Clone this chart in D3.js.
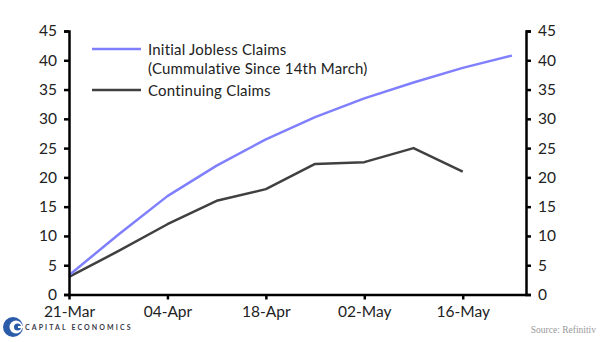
<!DOCTYPE html>
<html><head><meta charset="utf-8">
<script src="https://cdn.jsdelivr.net/npm/d3@7"></script>
<style>body{margin:0;background:#fff}svg{display:block}</style>
</head><body>
<svg id="c" width="600" height="342"></svg>
<script>
const dates = ["2020-03-21","2020-03-28","2020-04-04","2020-04-11","2020-04-18","2020-04-25","2020-05-02","2020-05-09","2020-05-16","2020-05-23"];
const initialClaims = [3.3, 10.2, 16.8, 22.0, 26.5, 30.3, 33.5, 36.2, 38.7, 40.8];
const continuingClaims = [3.0, 7.4, 12.0, 16.0, 18.0, 22.3, 22.6, 25.0, 21.0, null];
const xTickDates = ["2020-03-21","2020-04-04","2020-04-18","2020-05-02","2020-05-16"];
const yTicks = [0,5,10,15,20,25,30,35,40,45];
const seriesNames = ["Initial Jobless Claims", "(Cummulative Since 14th March)", "Continuing Claims"];

const parse = d3.utcParse("%Y-%m-%d");
const fmt = d3.utcFormat("%d-%b");
const svg = d3.select("#c");
const font = "Lato, 'Open Sans', sans-serif";

const x = d3.scaleUtc().domain([parse("2020-03-21"), parse("2020-05-25")]).range([69, 526]);
const y = d3.scaleLinear().domain([0,45]).range([294.5, 31]);

const line = d3.line().defined(d => d[1] != null).x(d => x(d[0])).y(d => y(d[1]));
const pts = arr => dates.map((d,i) => [parse(d), arr[i]]);

svg.append("path").datum(pts(continuingClaims)).attr("d", line)
  .attr("fill","none").attr("stroke","#404040").attr("stroke-width",2.5).attr("stroke-linejoin","round");
svg.append("path").datum(pts(initialClaims)).attr("d", line)
  .attr("fill","none").attr("stroke","#8080ff").attr("stroke-width",2.5).attr("stroke-linejoin","round");

function styleAxis(g){
  g.select(".domain").attr("stroke","#000").attr("stroke-width",2.5);
  g.selectAll(".tick line").attr("stroke","#000").attr("stroke-width",2.5);
  g.selectAll("text").attr("font-family",font).attr("font-size",15.5).attr("fill","#222");
}
const gl = svg.append("g").attr("transform","translate(69,0)")
  .call(d3.axisLeft(y).tickValues(yTicks).tickSize(5).tickSizeOuter(5).tickPadding(7));
styleAxis(gl);
const gr = svg.append("g").attr("transform","translate(526,0)")
  .call(d3.axisRight(y).tickValues(yTicks).tickSize(5).tickSizeOuter(5).tickPadding(7));
styleAxis(gr);
const gx = svg.append("g").attr("transform","translate(0,294.5)")
  .call(d3.axisBottom(x).tickValues(xTickDates.map(parse)).tickFormat(fmt).tickSize(5).tickSizeOuter(0).tickPadding(6));
styleAxis(gx);

// legend
const lg = svg.append("g");
lg.append("line").attr("x1",92).attr("x2",141).attr("y1",49).attr("y2",49).attr("stroke","#8080ff").attr("stroke-width",2.5);
lg.append("line").attr("x1",92).attr("x2",141).attr("y1",90).attr("y2",90).attr("stroke","#404040").attr("stroke-width",2.5);
lg.append("text").attr("x",148).attr("y",55).text(seriesNames[0]);
lg.append("text").attr("x",148).attr("y",74).text(seriesNames[1]);
lg.append("text").attr("x",148).attr("y",96).text(seriesNames[2]);
lg.selectAll("text").attr("font-family",font).attr("font-size",15).attr("letter-spacing",0.2).attr("fill","#222");

// logo
const logo = svg.append("g").attr("transform","translate(13,327)");
logo.append("circle").attr("r",10).attr("fill","#2a5caa");
logo.append("circle").attr("cx",3).attr("r",6.5).attr("fill","#fff");
logo.append("circle").attr("cx",4.5).attr("r",3.5).attr("fill","#2a5caa");
logo.append("rect").attr("x",5).attr("y",-1).attr("width",6).attr("height",2).attr("fill","#fff");
svg.append("text").attr("x",25).attr("y",330).text("CAPITAL ECONOMICS")
  .attr("font-family",font).attr("font-weight","bold").attr("font-size",7).attr("letter-spacing",2.1).attr("fill","#3a3a4a");
svg.append("text").attr("x",596).attr("y",333).attr("text-anchor","end").text("Source: Refinitiv")
  .attr("font-family","'Liberation Serif', serif").attr("font-size",9.5).attr("fill","#999");
</script>
</body></html>
